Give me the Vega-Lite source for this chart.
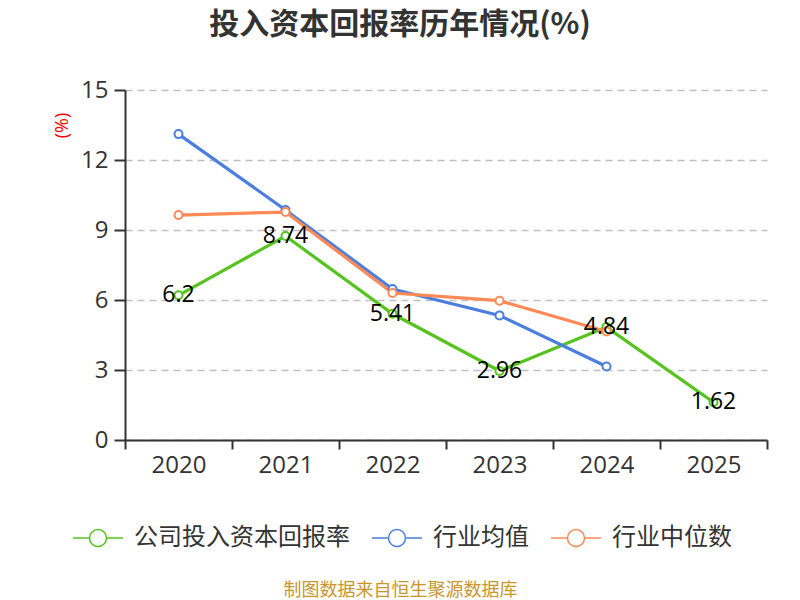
{
  "$schema": "https://vega.github.io/schema/vega-lite/v6.json",
  "width": 642,
  "height": 350,
  "autosize": "none",
  "padding": {"left": 125, "top": 90, "right": 33, "bottom": 160},
  "background": "white",
  "title": {
    "text": "投入资本回报率历年情况(%)",
    "fontSize": 30,
    "fontWeight": "bold",
    "color": "#333333",
    "font": "Noto Sans CJK SC",
    "anchor": "middle",
    "dx": -46,
    "offset": 38
  },
  "config": {
    "font": "Open Sans",
    "view": {"stroke": null},
    "legend": {"padding": 0}
  },
  "data": {
    "values": [
      {"year": "2020", "series": "公司投入资本回报率", "value": 6.2},
      {"year": "2021", "series": "公司投入资本回报率", "value": 8.74},
      {"year": "2022", "series": "公司投入资本回报率", "value": 5.41},
      {"year": "2023", "series": "公司投入资本回报率", "value": 2.96},
      {"year": "2024", "series": "公司投入资本回报率", "value": 4.84},
      {"year": "2025", "series": "公司投入资本回报率", "value": 1.62},
      {"year": "2020", "series": "行业均值", "value": 13.11},
      {"year": "2021", "series": "行业均值", "value": 9.86},
      {"year": "2022", "series": "行业均值", "value": 6.47},
      {"year": "2023", "series": "行业均值", "value": 5.34},
      {"year": "2024", "series": "行业均值", "value": 3.15},
      {"year": "2020", "series": "行业中位数", "value": 9.64},
      {"year": "2021", "series": "行业中位数", "value": 9.77},
      {"year": "2022", "series": "行业中位数", "value": 6.3},
      {"year": "2023", "series": "行业中位数", "value": 5.97},
      {"year": "2024", "series": "行业中位数", "value": 4.65}
    ]
  },
  "encoding": {
    "x": {
      "field": "year",
      "type": "ordinal",
      "scale": {"paddingInner": 0, "paddingOuter": 0},
      "axis": {
        "title": "制图数据来自恒生聚源数据库",
        "titleFont": "Noto Sans CJK SC",
        "titleFontSize": 18,
        "titleFontWeight": "normal",
        "titleColor": "#c9962c",
        "titleX": 275,
        "titleY": 150,
        "titleAlign": "center",
        "titleBaseline": "middle",
        "labelAngle": 0,
        "labelFontSize": 24,
        "labelColor": "#333333",
        "labelPadding": 4,
        "domainColor": "#333333",
        "domainWidth": 2,
        "tickColor": "#333333",
        "tickWidth": 2,
        "tickSize": 9,
        "tickBand": "extent",
        "grid": false
      }
    },
    "y": {
      "field": "value",
      "type": "quantitative",
      "scale": {"domain": [0, 15]},
      "axis": {
        "values": [0, 3, 6, 9, 12, 15],
        "title": "(%)",
        "titleColor": "#ff0000",
        "titleFontSize": 18,
        "titleFontWeight": "normal",
        "titleX": -63,
        "titleY": 35,
        "titleAngle": -90,
        "titleAlign": "center",
        "titleBaseline": "middle",
        "labelFontSize": 24,
        "labelColor": "#333333",
        "labelPadding": 6,
        "domainColor": "#333333",
        "domainWidth": 2,
        "tickColor": "#333333",
        "tickWidth": 2,
        "tickSize": 11,
        "gridColor": "#c0c0c0",
        "gridDash": [7, 5],
        "gridWidth": 1.5
      }
    },
    "color": {
      "field": "series",
      "type": "nominal",
      "sort": ["公司投入资本回报率", "行业均值", "行业中位数"],
      "scale": {
        "domain": ["公司投入资本回报率", "行业均值", "行业中位数"],
        "range": ["#56c31f", "#4a7fe0", "#ff8a56"]
      },
      "legend": {
        "title": null,
        "orient": "none",
        "direction": "horizontal",
        "legendX": -53,
        "legendY": 422,
        "symbolType": "M-1,0L-0.34,0M0.34,0L1,0M0.34,0A0.34,0.34,0,1,1,-0.34,0A0.34,0.34,0,1,1,0.34,0",
        "symbolSize": 2500,
        "symbolStrokeWidth": 1.5,
        "symbolFillColor": "white",
        "labelFont": "Noto Sans CJK SC",
        "labelFontSize": 24,
        "labelColor": "#333333",
        "labelOffset": 10,
        "columnPadding": 19,
        "labelLimit": 400
      }
    }
  },
  "layer": [
    {
      "mark": {"type": "line", "strokeWidth": 3.2}
    },
    {
      "mark": {"type": "point", "filled": false, "fill": "white", "fillOpacity": 1, "opacity": 1, "size": 64, "strokeWidth": 2}
    },
    {
      "transform": [{"filter": "datum.series === '公司投入资本回报率'"}],
      "mark": {"type": "text", "fontSize": 23, "color": "#000000", "baseline": "middle", "align": "center"},
      "encoding": {
        "text": {"field": "value", "type": "quantitative"},
        "color": {"value": "#000000"}
      }
    }
  ]
}
